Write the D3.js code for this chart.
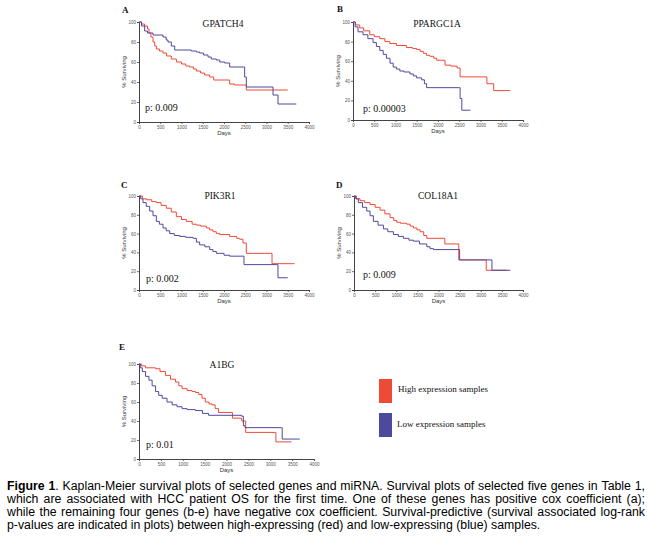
<!DOCTYPE html>
<html><head><meta charset="utf-8">
<script src="https://cdn.jsdelivr.net/npm/d3@7"></script>
<style>body{margin:0;background:#fff}svg{display:block}</style>
</head><body><svg id="c" width="661" height="545"></svg>
<script>
// ---------------- data ----------------
const genes = ["GPATCH4", "PPARGC1A", "PIK3R1", "COL18A1", "A1BG"];
const panelLetters = ["A", "B", "C", "D", "E"];
const pValues = ["p: 0.009", "p: 0.00003", "p: 0.002", "p: 0.009", "p: 0.01"];
const xTicks = [0, 500, 1000, 1500, 2000, 2500, 3000, 3500, 4000];
const yTicks = [0, 20, 40, 60, 80, 100];
const legendLabels = ["High expression samples", "Low expression samples"];

// [days, % surviving] at each step
const gpatch4High = [[0,100],[60,98],[130,96],[200,93],[235,89],[280,85],[330,80],[370,76],[408,73],[480,71],[565,69],[650,66],[760,63],[880,60],[1000,58],[1100,56],[1190,55],[1280,53],[1350,51],[1450,49],[1545,47],[1663,45],[1757,42],[2133,38],[2250,37],[2525,32],[3500,32]];
const gpatch4Low = [[0,100],[60,96],[133,91],[200,89],[330,87],[565,85],[640,82],[682,80],[760,76],[840,72],[1230,71],[1350,70],[1427,69],[1520,67],[1624,65],[1700,63],[1820,62],[1900,60],[2016,59],[2133,55],[2486,45],[2525,35],[3130,35],[3153,27],[3270,18],[3700,18]];
const ppargc1aHigh = [[0,100],[60,97],[157,94],[250,91],[394,87],[500,85],[630,83],[750,80],[866,78],[1024,76],[1260,74],[1400,73],[1496,72],[1580,70],[1654,68],[1730,66],[1811,65],[1900,63],[1969,61],[2165,56],[2300,55],[2450,53],[2520,44],[3150,37],[3310,30],[3700,30]];
const ppargc1aLow = [[0,100],[50,95],[118,90],[236,87],[350,83],[472,79],[550,75],[630,71],[710,67],[787,63],[870,58],[945,54],[1020,52],[1102,50],[1200,49],[1339,47],[1420,45],[1496,43],[1614,41],[1680,37],[1732,33],[2480,33],[2520,22],[2560,10],[2760,10]];
const pik3r1High = [[0,100],[80,97],[173,96],[300,94],[408,93],[520,90],[643,87],[760,83],[878,78],[1000,75],[1114,73],[1250,70],[1349,69],[1450,68],[1584,66],[1660,64],[1741,62],[1820,60],[1898,59],[2133,57],[2300,55],[2369,54],[2447,50],[2525,39],[3100,39],[3130,28],[3660,28]];
const pik3r1Low = [[0,100],[40,97],[94,93],[170,89],[251,84],[330,79],[408,73],[480,70],[565,66],[640,63],[721,60],[830,58],[957,57],[1100,56],[1271,55],[1350,51],[1427,48],[1550,46],[1663,43],[1740,41],[1820,39],[2000,37],[2133,36],[2470,27],[3240,27],[3270,13],[3500,13]];
const col18a1High = [[0,100],[60,97],[142,95],[250,93],[379,91],[500,88],[617,85],[730,81],[854,77],[940,74],[1012,72],[1100,71],[1249,70],[1330,68],[1407,66],[1490,64],[1565,62],[1650,58],[1723,55],[2150,49],[2480,32],[3130,21],[3620,21]];
const col18a1Low = [[0,100],[40,97],[103,93],[200,88],[300,84],[380,79],[458,73],[570,69],[696,65],[800,62],[933,59],[1050,57],[1170,55],[1300,53],[1407,52],[1550,49],[1723,46],[1800,44],[1881,43],[2500,32],[3265,21],[3700,21]];
const a1bgHigh = [[0,100],[60,98],[150,96],[379,95],[480,92],[606,88],[720,84],[833,81],[910,77],[985,74],[1100,72],[1212,71],[1290,70],[1364,68],[1440,64],[1515,60],[1600,58],[1667,57],[1740,53],[1818,49],[2136,43],[2348,40],[2439,28],[3110,28],[3129,18],[3485,18]];
const a1bgLow = [[0,100],[30,96],[76,92],[150,87],[227,83],[300,77],[379,71],[450,67],[530,64],[640,60],[758,57],[870,55],[985,53],[1100,52],[1288,51],[1450,48],[1591,46],[2348,45],[2386,35],[2424,33],[3258,33],[3273,21],[3674,21]];

const highSeries = [gpatch4High, ppargc1aHigh, pik3r1High, col18a1High, a1bgHigh];
const lowSeries = [gpatch4Low, ppargc1aLow, pik3r1Low, col18a1Low, a1bgLow];

const captionLines = [
  [["Figure 1", true], [". Kaplan-Meier survival plots of selected genes and miRNA. Survival plots of selected five genes in Table 1,", false]],
  [["which are associated with HCC patient OS for the first time. One of these genes has positive cox coefficient (a);", false]],
  [["while the remaining four genes (b-e) have negative cox coefficient. Survival-predictive (survival associated log-rank", false]],
  [["p-values are indicated in plots) between high-expressing (red) and low-expressing (blue) samples.", false]]
];

// ---------------- layout ----------------
const RED = "#ee4a37", BLUE = "#4d4a9e";
const layout = [
  {x0:139, x1:309, yT:22,  yB:122, tx:223, ty:27,  lx:122, ly:13,  px:145, py:111},
  {x0:353, x1:523, yT:22,  yB:120, tx:437, ty:27,  lx:337, ly:12,  px:363, py:112},
  {x0:139, x1:309, yT:196, yB:290, tx:220, ty:199, lx:121, ly:188, px:146, py:282},
  {x0:354, x1:523, yT:196, yB:290, tx:438, ty:199, lx:336, ly:188, px:363, py:278},
  {x0:139, x1:314, yT:364, yB:459, tx:222, ty:368, lx:119, ly:350, px:146, py:448}
];

const svg = d3.select("#c");
const SERIF = "'Liberation Serif','DejaVu Serif',serif";
const SANS = "'Liberation Sans',Arial,sans-serif";

genes.forEach((g, i) => {
  const L = layout[i];
  const x = d3.scaleLinear().domain([0, 4000]).range([L.x0, L.x1]);
  const y = d3.scaleLinear().domain([0, 100]).range([L.yB, L.yT]);
  const gp = svg.append("g");

  const xa = gp.append("g").attr("transform", `translate(0,${L.yB})`)
    .call(d3.axisBottom(x).tickValues(xTicks).tickSize(2).tickPadding(1.5).tickFormat(d3.format("d")));
  const ya = gp.append("g").attr("transform", `translate(${L.x0},0)`)
    .call(d3.axisLeft(y).tickValues(yTicks).tickSize(2).tickPadding(1).tickFormat(d3.format("d")));
  [xa, ya].forEach(a => {
    a.select(".domain").attr("stroke", "#444").attr("stroke-width", 1);
    a.selectAll(".tick line").attr("stroke", "#444").attr("stroke-width", 0.8);
    a.selectAll("text").attr("font-family", SANS).attr("font-size", 4.5).attr("fill", "#555");
  });

  const line = d3.line().x(d => x(d[0])).y(d => y(d[1])).curve(d3.curveStepAfter);
  gp.append("path").datum(highSeries[i]).attr("d", line)
    .attr("fill", "none").attr("stroke", RED).attr("stroke-width", 1);
  gp.append("path").datum(lowSeries[i]).attr("d", line)
    .attr("fill", "none").attr("stroke", BLUE).attr("stroke-width", 1);

  gp.append("text").attr("x", L.tx).attr("y", L.ty).attr("text-anchor", "middle")
    .attr("font-family", SERIF).attr("font-size", 9.5).attr("fill", "#111").text(g);
  gp.append("text").attr("x", L.lx).attr("y", L.ly)
    .attr("font-family", SERIF).attr("font-weight", "bold").attr("font-size", 9).attr("fill", "#111").text(panelLetters[i]);
  gp.append("text").attr("x", L.px).attr("y", L.py)
    .attr("font-family", SERIF).attr("font-size", 10).attr("fill", "#111").text(pValues[i]);
  gp.append("text").attr("x", (L.x0 + L.x1) / 2).attr("y", L.yB + 13).attr("text-anchor", "middle")
    .attr("font-family", SANS).attr("font-size", 6).attr("fill", "#333").text("Days");
  gp.append("text").attr("transform", `translate(${L.x0 - 13},${(L.yT + L.yB) / 2}) rotate(-90)`)
    .attr("text-anchor", "middle").attr("font-family", SANS).attr("font-size", 6).attr("fill", "#333").text("% Surviving");
});

// legend
const leg = svg.append("g");
[[RED, 379, 392], [BLUE, 413, 427]].forEach((d, i) => {
  leg.append("rect").attr("x", 379).attr("y", d[1]).attr("width", 13).attr("height", 24).attr("fill", d[0]);
  leg.append("text").attr("x", i === 0 ? 398 : 397).attr("y", d[2])
    .attr("font-family", SERIF).attr("font-size", 9).attr("fill", "#111").text(legendLabels[i]);
});

// caption, justified
const cap = svg.append("g").attr("font-family", SANS).attr("font-size", 12.3).attr("fill", "#000");
const left = 7, right = 645, base0 = 490, lh = 13;
function measure(txt, bold) {
  const t = cap.append("text").attr("font-weight", bold ? "bold" : "normal").text(txt);
  const w = t.node().getComputedTextLength(); t.remove(); return w;
}
const spaceW = measure("a a", false) - measure("aa", false);
captionLines.forEach((segs, li) => {
  const words = [];
  segs.forEach(([txt, bold], si) => {
    const parts = txt.split(" ");
    parts.forEach((p, pi) => {
      if (pi === 0 && si > 0 && words.length) { words[words.length - 1].push([p, bold]); }
      else words.push([[p, bold]]);
    });
  });
  const widths = words.map(w => w.reduce((s, [p, b]) => s + measure(p, b), 0));
  const total = widths.reduce((a, b) => a + b, 0);
  const last = li === captionLines.length - 1;
  const gap = last ? spaceW : (right - left - total) / (words.length - 1);
  let cx = left;
  const t = cap.append("text").attr("y", base0 + li * lh);
  words.forEach((w, wi) => {
    let px = cx;
    w.forEach(([p, b]) => {
      t.append("tspan").attr("x", px).attr("font-weight", b ? "bold" : "normal").text(p);
      px += measure(p, b);
    });
    cx += widths[wi] + gap;
  });
});
</script></body></html>
